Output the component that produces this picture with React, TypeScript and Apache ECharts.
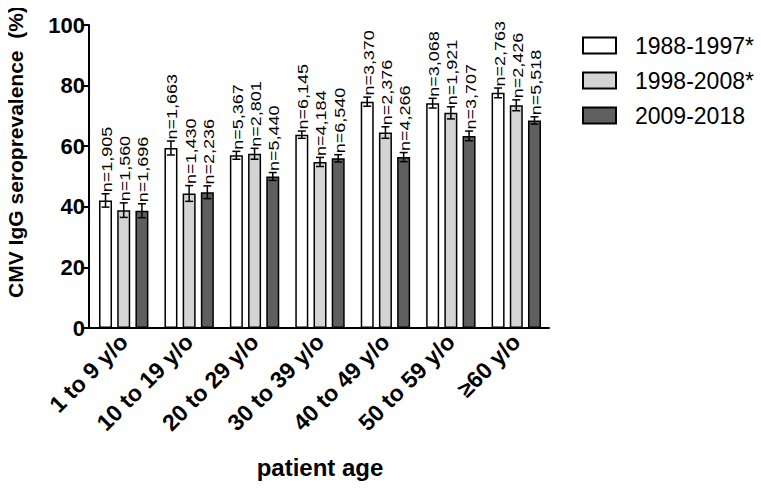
import React, { useEffect, useRef } from "react";
import * as echarts from "echarts";

const categories = ["1 to 9 y/o", "10 to 19 y/o", "20 to 29 y/o", "30 to 39 y/o", "40 to 49 y/o", "50 to 59 y/o", "≥60 y/o"];
const seriesNames = ["1988-1997*", "1998-2008*", "2009-2018"];
const values1988 = [42.1, 59.4, 57.0, 63.8, 74.7, 74.2, 77.6];
const values1998 = [38.9, 44.4, 57.5, 54.8, 64.5, 71.0, 73.5];
const values2009 = [38.7, 44.8, 50.0, 56.0, 56.4, 63.4, 68.5];
const err1988 = [2.2, 2.3, 1.3, 1.2, 1.5, 1.6, 1.6];
const err1998 = [2.4, 2.6, 1.8, 1.5, 1.9, 2.0, 1.8];
const err2009 = [2.3, 2.1, 1.3, 1.2, 1.5, 1.6, 1.2];
const n1988 = ["1,905", "1,663", "5,367", "6,145", "3,370", "3,068", "2,763"];
const n1998 = ["1,560", "1,430", "2,801", "4,184", "2,376", "1,921", "2,426"];
const n2009 = ["1,696", "2,236", "5,440", "6,540", "4,266", "3,707", "5,518"];
const yTicks = { min: 0, max: 100, interval: 20 };
const yTitle = "CMV IgG seroprevalence  (%)";
const xTitle = "patient age";

const FONT = "'Liberation Sans', Arial, Helvetica, sans-serif";
const colors = ["#ffffff", "#d4d4d4", "#5f5f5f"];
const BAR_W = 13;
const GAP = 0.4;

const allValues = [values1988, values1998, values2009];
const allErr = [err1988, err1998, err2009];
const allN = [n1988, n1998, n2009];

export default function App() {
  const ref = useRef<HTMLDivElement>(null);
  useEffect(() => {
    if (!ref.current) return;
    const chart = echarts.init(ref.current, null, { renderer: "svg" });
    const step = BAR_W * (1 + GAP);
    const barSeries = seriesNames.map((name, i) => ({
      name,
      type: "bar",
      data: allValues[i],
      barWidth: BAR_W,
      barGap: GAP * 100 + "%",
      itemStyle: { color: colors[i], borderColor: "#000", borderWidth: 1.5 },
      z: 2,
    }));
    const errSeries = seriesNames.map((name, i) => ({
      name: "err" + i,
      type: "custom",
      z: 5,
      data: allValues[i].map((v, k) => [k, v, allErr[i][k]]),
      encode: { x: 0, y: 1 },
      renderItem: (params: any, api: any) => {
        const k = api.value(0);
        const v = api.value(1);
        const e = api.value(2);
        const off = (i - 1) * step;
        const x = api.coord([k, v])[0] + off;
        const yT = api.coord([k, v + e])[1];
        const yB = api.coord([k, v - e])[1];
        const cap = 4;
        const ls = { stroke: "#000", lineWidth: 1.5 };
        return {
          type: "group",
          children: [
            { type: "line", shape: { x1: x, y1: yT, x2: x, y2: yB }, style: ls },
            { type: "line", shape: { x1: x - cap, y1: yT, x2: x + cap, y2: yT }, style: ls },
            { type: "line", shape: { x1: x - cap, y1: yB, x2: x + cap, y2: yB }, style: ls },
            {
              type: "text",
              x: x + 1.5,
              y: yT - 1.5,
              rotation: Math.PI / 2,
              scaleX: 1.2,
              style: {
                text: "n=" + allN[i][params.dataIndex],
                fill: "#000",
                fontSize: 15,
                fontFamily: FONT,
                align: "left",
                verticalAlign: "middle",
              },
            },
          ],
        };
      },
    }));
    chart.setOption({
      animation: false,
      backgroundColor: "#fff",
      textStyle: { fontFamily: FONT },
      grid: { left: 91, top: 25, right: 213, bottom: 161, containLabel: false },
      legend: {
        data: seriesNames,
        orient: "vertical",
        left: 577,
        top: 29,
        itemWidth: 33,
        itemHeight: 16,
        itemGap: 12,
        icon: "rect",
        textStyle: { fontSize: 23, color: "#000", fontFamily: FONT, padding: [0, 0, 0, 14] },
      },
      xAxis: {
        type: "category",
        data: categories,
        name: xTitle,
        nameLocation: "middle",
        nameGap: 127,
        nameTextStyle: { fontSize: 24, fontWeight: "bold", color: "#000", fontFamily: FONT },
        axisLine: { lineStyle: { color: "#000", width: 2 } },
        axisTick: { alignWithLabel: true, length: 6, lineStyle: { color: "#000", width: 2 } },
        axisLabel: { interval: 0, rotate: 45, fontSize: 23, fontWeight: "bold", color: "#000", margin: 10, fontFamily: FONT },
      },
      yAxis: {
        type: "value",
        min: yTicks.min,
        max: yTicks.max,
        interval: yTicks.interval,
        offset: 2,
        axisLine: { show: true, lineStyle: { color: "#000", width: 2 } },
        axisTick: { show: true, length: 6, lineStyle: { color: "#000", width: 2 } },
        axisLabel: { fontSize: 22, fontWeight: "bold", color: "#000", margin: 4, fontFamily: FONT },
        splitLine: { show: false },
      },
      graphic: [
        { type: "line", shape: { x1: 88, y1: 328, x2: 92, y2: 328 }, style: { stroke: "#000", lineWidth: 2 } },
        {
          type: "text",
          x: 15,
          y: 152,
          rotation: Math.PI / 2,
          style: {
            text: yTitle,
            fill: "#000",
            fontSize: 21,
            fontWeight: "bold",
            fontFamily: FONT,
            align: "center",
            verticalAlign: "middle",
          },
        },
      ],
      series: [...barSeries, ...errSeries],
    });
    return () => chart.dispose();
  }, []);
  return <div ref={ref} style={{ width: 762, height: 489, margin: -8 }} />;
}
